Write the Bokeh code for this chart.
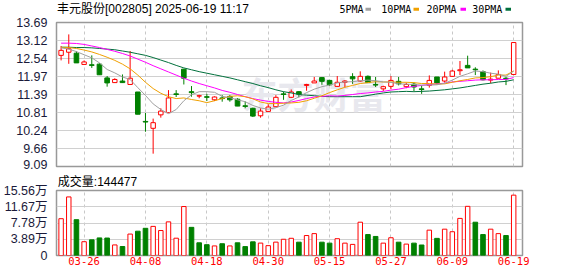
from bokeh.plotting import figure
from bokeh.layouts import column
from bokeh.models import Range1d, FixedTicker, Label, LinearAxis
from bokeh.core.properties import value
from bokeh.embed import file_html
from bokeh.resources import INLINE

# ---------------- data ----------------
dates = ["03-21", "03-24", "03-25", "03-26", "03-27", "03-28", "03-31",
         "04-01", "04-02", "04-03", "04-07", "04-08", "04-09", "04-10", "04-11",
         "04-14", "04-15", "04-16", "04-17", "04-18", "04-21", "04-22", "04-23",
         "04-24", "04-25", "04-28", "04-29", "04-30",
         "05-06", "05-07", "05-08", "05-09", "05-12", "05-13", "05-14", "05-15",
         "05-16", "05-19", "05-20", "05-21", "05-22", "05-23", "05-26", "05-27",
         "05-28", "05-29", "05-30",
         "06-03", "06-04", "06-05", "06-06", "06-09", "06-10", "06-11", "06-12",
         "06-13", "06-16", "06-17", "06-18", "06-19"]

opens = [12.64, 12.74, 12.71, 12.35, 12.34, 12.36, 11.92, 11.77, 11.82, 11.71,
         11.47, 10.53, 10.31, 10.74, 10.81, 11.41, 12.20, 11.48, 11.34, 11.32,
         11.22, 11.28, 11.33, 11.24, 11.03, 10.95, 10.71, 10.85, 11.00, 11.41,
         11.30, 11.48, 11.68, 11.76, 11.93, 11.84, 11.65, 11.78, 11.96, 11.82,
         11.97, 11.71, 11.57, 11.65, 11.81, 11.64, 11.72, 11.57, 11.68, 11.95,
         11.82, 11.97, 12.15, 12.32, 12.20, 12.12, 11.85, 11.91, 11.91, 12.03]
highs = [12.94, 13.31, 12.77, 12.48, 12.64, 12.39, 11.98, 11.91, 12.03, 12.78,
         11.47, 10.80, 10.62, 10.95, 11.53, 11.53, 12.20, 11.66, 11.38, 11.41,
         11.33, 11.37, 11.37, 11.27, 11.17, 10.97, 10.95, 11.08, 11.37, 11.48,
         11.55, 11.50, 11.73, 11.95, 11.95, 11.86, 11.98, 11.85, 12.07, 12.13,
         12.00, 11.95, 11.67, 11.98, 11.95, 11.77, 11.77, 11.68, 12.00, 11.95,
         12.12, 12.18, 12.46, 12.63, 12.26, 12.16, 12.09, 12.16, 11.95, 13.05]
lows = [12.48, 12.37, 12.40, 12.35, 12.24, 12.02, 11.64, 11.77, 11.76, 11.71,
        10.76, 10.20, 9.50, 10.65, 10.81, 11.31, 11.71, 11.32, 11.27, 11.18,
        11.18, 11.16, 11.16, 11.02, 10.95, 10.67, 10.65, 10.85, 10.99, 11.22,
        11.28, 11.30, 11.51, 11.76, 11.70, 11.66, 11.64, 11.62, 11.73, 11.80,
        11.77, 11.63, 11.50, 11.56, 11.68, 11.59, 11.50, 11.41, 11.61, 11.71,
        11.77, 11.95, 12.01, 12.24, 12.01, 11.84, 11.75, 11.91, 11.69, 12.03]
closes = [12.80, 12.85, 12.40, 12.43, 12.32, 12.02, 11.76, 11.87, 11.77, 11.91,
          10.76, 10.51, 10.49, 10.86, 11.28, 11.39, 11.91, 11.45, 11.35, 11.30,
          11.31, 11.26, 11.22, 11.02, 11.01, 10.70, 10.86, 10.99, 11.30, 11.39,
          11.47, 11.40, 11.71, 11.82, 11.81, 11.70, 11.78, 11.82, 11.89, 11.97,
          11.77, 11.69, 11.64, 11.84, 11.73, 11.71, 11.63, 11.55, 11.84, 11.76,
          11.95, 12.14, 12.18, 12.24, 12.18, 11.86, 11.88, 12.03, 11.89, 13.05]

ma5 = [12.88, 12.84, 12.76, 12.66, 12.56, 12.40, 12.19, 12.08, 11.95, 11.87,
       11.61, 11.36, 11.09, 10.91, 10.78, 10.91, 11.19, 11.38, 11.48, 11.48,
       11.46, 11.33, 11.29, 11.22, 11.16, 11.04, 10.96, 10.92, 10.97, 11.05,
       11.20, 11.31, 11.45, 11.56, 11.64, 11.69, 11.76, 11.79, 11.80, 11.83,
       11.85, 11.83, 11.79, 11.78, 11.73, 11.72, 11.71, 11.69, 11.69, 11.70,
       11.75, 11.85, 11.97, 12.05, 12.14, 12.12, 12.07, 12.04, 11.97, 12.14]
ma10 = [12.90, 12.89, 12.86, 12.81, 12.75, 12.67, 12.58, 12.48, 12.36, 12.21,
        12.01, 11.78, 11.58, 11.43, 11.32, 11.26, 11.28, 11.23, 11.19, 11.13,
        11.19, 11.26, 11.33, 11.35, 11.32, 11.25, 11.15, 11.10, 11.10, 11.11,
        11.12, 11.14, 11.19, 11.27, 11.35, 11.45, 11.54, 11.62, 11.68, 11.74,
        11.77, 11.80, 11.79, 11.79, 11.78, 11.78, 11.77, 11.74, 11.74, 11.72,
        11.73, 11.78, 11.83, 11.87, 11.92, 11.93, 11.96, 12.01, 12.01, 12.14]
ma20 = [13.03, 13.03, 13.02, 12.99, 12.94, 12.89, 12.83, 12.77, 12.70, 12.62,
        12.52, 12.42, 12.31, 12.21, 12.11, 12.01, 11.91, 11.82, 11.74, 11.67,
        11.60, 11.52, 11.46, 11.39, 11.32, 11.26, 11.21, 11.17, 11.14, 11.12,
        11.15, 11.20, 11.26, 11.31, 11.33, 11.35, 11.34, 11.36, 11.39, 11.42,
        11.44, 11.47, 11.49, 11.53, 11.56, 11.61, 11.65, 11.68, 11.71, 11.73,
        11.75, 11.79, 11.81, 11.83, 11.85, 11.86, 11.86, 11.87, 11.87, 11.93]
ma30 = [12.90, 12.90, 12.89, 12.89, 12.88, 12.86, 12.84, 12.82, 12.78, 12.74,
        12.69, 12.64, 12.57, 12.49, 12.41, 12.32, 12.24, 12.18, 12.12, 12.07,
        12.02, 11.97, 11.92, 11.86, 11.80, 11.74, 11.67, 11.61, 11.54, 11.48,
        11.44, 11.39, 11.37, 11.35, 11.33, 11.32, 11.32, 11.32, 11.32, 11.32,
        11.36, 11.40, 11.44, 11.47, 11.48, 11.49, 11.48, 11.49, 11.50, 11.52,
        11.54, 11.57, 11.60, 11.64, 11.68, 11.72, 11.75, 11.79, 11.81, 11.86]

volumes = [88100, 140200, 85800, 33000, 37500, 42100, 41800, 25300, 21500, 51300,
           58200, 65100, 69700, 59800, 80500, 41400, 117200, 67400, 30400, 25900,
           22900, 28200, 22900, 30400, 21300, 32700, 29700, 23600, 32000, 38900,
           41200, 31900, 47800, 52400, 31900, 29600, 40200, 29600, 26600, 79700,
           50100, 45600, 29600, 42500, 31900, 27300, 29600, 25100, 60700, 41000,
           63000, 56900, 88800, 117700, 79700, 50100, 63000, 52400, 47800, 144477]
vol_up = [1, 1, 0, 1, 0, 0, 0, 1, 0, 1,
          0, 0, 1, 1, 1, 1, 1, 0, 0, 0,
          1, 0, 1, 0, 0, 0, 1, 1, 1, 1,
          1, 0, 1, 1, 0, 0, 1, 1, 1, 1,
          0, 0, 1, 1, 0, 1, 0, 0, 1, 0,
          1, 1, 1, 1, 0, 0, 1, 1, 0, 1]

price_ticks = [9.09, 9.665, 10.24, 10.815, 11.39, 11.965, 12.54, 13.115, 13.69]
price_tick_labels = ["9.09", "9.66", "10.24", "10.81", "11.39", "11.97", "12.54", "13.12", "13.69"]
vol_ticks = [0, 38900, 77800, 116700, 155600]
vol_tick_labels = ["0", "3.89万", "7.78万", "11.67万", "15.56万"]
date_ticks = ["03-26", "04-08", "04-18", "04-30", "05-15", "05-27", "06-09", "06-19"]
ma_names = ["5PMA", "10PMA", "20PMA", "30PMA"]
title_text = "丰元股份[002805] 2025-06-19 11:17"

# ---------------- style / layout ----------------
RED = "#ff0000"
GREEN = "#008000"
MA_COLORS = ["#a0a0a0", "#f0a000", "#ff00ff", "#00703c"]
GRID = "#d0d0d0"
BORDER = "#999999"
MIXED_FONT = "Liberation Sans, 'Noto Sans CJK SC'"
W = 578
FL, FR = 56, 522
FW = FR - FL
HH = 16                      # header strip
PH, PT, PB = 155, 6, 5       # price figure (frame 144 px)
VH, VT, VB = 105, 16, 21     # volume figure (frame 68 px)
X0, X1 = -0.6, 60.15
LABEL_LIFT_PX = 2            # the lowest price label sits slightly above the frame edge

idx = list(range(len(dates)))
date_idx = [dates.index(d) for d in date_ticks]


def xpx(px):
    return X0 + (px - FL) / FW * (X1 - X0)


def style_fig(f):
    f.outline_line_color = BORDER
    f.outline_line_width = 1.5
    f.background_fill_color = "white"
    f.border_fill_color = "white"
    f.xgrid.ticker = FixedTicker(ticks=date_idx)
    f.xgrid.grid_line_color = "#c8c8c8"
    f.xgrid.grid_line_dash = "3 3"
    f.ygrid.grid_line_color = GRID
    f.yaxis.axis_line_color = None
    f.yaxis.major_tick_line_color = None
    f.yaxis.minor_tick_line_color = None
    f.yaxis.major_label_standoff = 3
    f.yaxis.major_label_text_font = MIXED_FONT
    f.yaxis.major_label_text_font_size = "12.5px"
    f.yaxis.major_label_text_color = "#1a1a3a"


# ---------------- header strip (title + MA legend) ----------------
# the column aligns this frame with the panels below (x 56..522 px)
h = figure(width=W, height=HH, x_range=Range1d(FL, FR), y_range=Range1d(HH, 0),
           output_backend="svg", toolbar_location=None,
           x_axis_location=None, y_axis_location=None, min_border=0)
h.outline_line_color = None
h.grid.visible = False
h.background_fill_color = "white"
h.border_fill_color = "white"
h.text(x=[FL + 0.5], y=[8.8], text=[title_text], text_align="left", text_baseline="middle",
       text_font=value(MIXED_FONT), text_font_size="12px", text_color="#000000")
legend_text_px = [339, 380.7, 426, 471.7]
legend_mark_px = [365, 413, 460, 505]
h.text(x=legend_text_px, y=[8.8] * 4, text=ma_names, text_align="left",
       text_baseline="middle", text_font=value("DejaVu Sans Mono"),
       text_font_size="10px", text_color="#000000")
h.quad(left=legend_mark_px, right=[m + 5.5 for m in legend_mark_px],
       top=[7.3] * 4, bottom=[10.3] * 4, fill_color=MA_COLORS, line_color=None)

# ---------------- price panel ----------------
x_range = Range1d(X0, X1)
p = figure(width=W, height=PH, x_range=x_range,
           y_range=Range1d(price_ticks[0], price_ticks[-1]),
           output_backend="svg", toolbar_location=None,
           min_border_left=FL, min_border_right=W - FR,
           min_border_top=PT, min_border_bottom=PB)
style_fig(p)
p.xaxis.visible = False
lift = LABEL_LIFT_PX * (price_ticks[-1] - price_ticks[0]) / (PH - PT - PB)
axis_ticks = [price_ticks[0] + lift] + price_ticks[1:]
p.yaxis.ticker = FixedTicker(ticks=axis_ticks)
p.yaxis.major_label_overrides = {t: s for t, s in zip(axis_ticks, price_tick_labels)}
p.ygrid.ticker = FixedTicker(ticks=price_ticks)

# watermark
p.add_layout(Label(x=xpx(313), y=11.45, text="东方财富", text_align="center",
                   text_baseline="middle", text_font="Noto Sans CJK SC",
                   text_font_size="36px", text_font_style="bold",
                   text_color="#e8e8ee", level="underlay"))

wick_colors = [RED if c >= o else GREEN for o, c in zip(opens, closes)]
p.segment(x0=idx, y0=highs, x1=idx, y1=lows, line_color=wick_colors, line_width=1)

up_ids = [i for i in idx if closes[i] >= opens[i]]
dn_ids = [i for i in idx if closes[i] < opens[i]]
p.vbar(x=up_ids, top=[closes[i] for i in up_ids], bottom=[opens[i] for i in up_ids],
       width=0.58, fill_color="white", line_color=RED, line_width=1)
p.vbar(x=dn_ids, top=[opens[i] for i in dn_ids], bottom=[closes[i] for i in dn_ids],
       width=0.6, fill_color=GREEN, line_color=GREEN, line_width=1)

for series, col in zip([ma30, ma20, ma10, ma5], MA_COLORS[::-1]):
    p.line(idx, series, line_color=col, line_width=1)

# ---------------- volume panel ----------------
v = figure(width=W, height=VH, x_range=x_range,
           y_range=Range1d(vol_ticks[0], vol_ticks[-1]),
           output_backend="svg", toolbar_location=None,
           min_border_left=FL, min_border_right=W - FR,
           min_border_top=VT, min_border_bottom=VB)
style_fig(v)
v.yaxis.ticker = FixedTicker(ticks=vol_ticks)
v.yaxis.major_label_overrides = {t: s for t, s in zip(vol_ticks, vol_tick_labels)}
v.ygrid.ticker = FixedTicker(ticks=vol_ticks)
v.xaxis.ticker = FixedTicker(ticks=date_idx)
v.xaxis.major_label_overrides = {i: d for i, d in zip(date_idx, date_ticks)}
v.xaxis.axis_line_color = None
v.xaxis.major_tick_line_color = None
v.xaxis.minor_tick_line_color = None
v.xaxis.major_tick_out = 0
v.xaxis.major_label_standoff = 1
v.xaxis.major_label_text_font = "DejaVu Sans Mono"
v.xaxis.major_label_text_font_size = "10.5px"
v.xaxis.major_label_text_color = RED

# "成交量:144477" caption above the volume frame, carried by an axis
cap_x = xpx(97)
cap_axis = LinearAxis(ticker=FixedTicker(ticks=[cap_x]),
                      major_label_overrides={cap_x: f"成交量:{volumes[-1]}"})
cap_axis.axis_line_color = None
cap_axis.major_tick_line_color = None
cap_axis.minor_tick_line_color = None
cap_axis.major_tick_out = 0
cap_axis.major_tick_in = 0
cap_axis.major_label_standoff = 2
cap_axis.major_label_text_font = MIXED_FONT
cap_axis.major_label_text_font_size = "12px"
cap_axis.major_label_text_color = "#000000"
v.add_layout(cap_axis, "above")

vu = [i for i in idx if vol_up[i]]
vd = [i for i in idx if not vol_up[i]]
v.vbar(x=vu, top=[volumes[i] for i in vu], bottom=0, width=0.58,
       fill_color="white", line_color=RED, line_width=1)
v.vbar(x=vd, top=[volumes[i] for i in vd], bottom=0, width=0.6,
       fill_color=GREEN, line_color=GREEN, line_width=1)

layout = column(h, p, v, spacing=0)
open("out.html", "w").write(file_html(layout, INLINE))
